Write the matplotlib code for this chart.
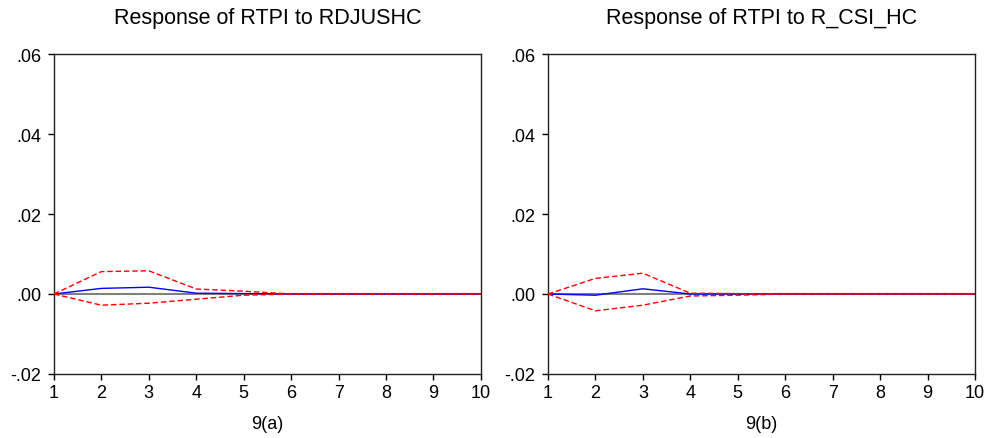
import matplotlib

matplotlib.use("Agg")
import matplotlib.pyplot as plt  # noqa: E402
from matplotlib.ticker import FuncFormatter  # noqa: E402

plt.rcParams["font.family"] = ["Liberation Sans", "DejaVu Sans"]

periods = list(range(1, 11))

# panel (a): response of RTPI to RDJUSHC
resp_a = [0.0, 0.0014, 0.0017, 0.0002, 0.0001, 0.0, 0.0, 0.0, 0.0, 0.0]
upper_a = [0.0, 0.0056, 0.0058, 0.00125, 0.0007, 0.0, 0.0, 0.0, 0.0, 0.0]
lower_a = [0.0, -0.0028, -0.0023, -0.0013, -0.0003, 0.0, 0.0, 0.0, 0.0, 0.0]

# panel (b): response of RTPI to R_CSI_HC
resp_b = [0.0, -0.0003, 0.0013, 0.0, 0.0, 0.0, 0.0, 0.0, 0.0, 0.0]
upper_b = [0.0, 0.0039, 0.0052, 0.0002, 0.0001, 0.0, 0.0, 0.0, 0.0, 0.0]
lower_b = [0.0, -0.0042, -0.0028, -0.0005, -0.0003, 0.0, 0.0, 0.0, 0.0, 0.0]

y_ticks = [-0.02, 0.0, 0.02, 0.04, 0.06]

panels = [
    ("Response of RTPI to RDJUSHC", "9(a)", resp_a, upper_a, lower_a, 0.0545),
    ("Response of RTPI to R_CSI_HC", "9(b)", resp_b, upper_b, lower_b, 0.5535),
]


def _fmt(v, _pos):
    s = f"{v:.2f}"
    return s.replace("0.", ".", 1)


fig = plt.figure(figsize=(9.9, 4.39), dpi=100)
for title, label, resp, up, lo, left in panels:
    ax = fig.add_axes([left, 0.1458, 0.4313, 0.7289])
    ax.axhline(0, color="#808080", linewidth=1.5, zorder=1)
    ax.plot(periods, up, color="red", linestyle=(0, (4, 2)), linewidth=1.0, zorder=3)
    ax.plot(periods, lo, color="red", linestyle=(0, (4, 2)), linewidth=1.0, zorder=3)
    ax.plot(periods, resp, color="blue", linewidth=1.0, zorder=2)
    ax.set_xlim(1, 10)
    ax.set_ylim(-0.02, 0.06)
    ax.set_xticks(periods)
    ax.set_yticks(y_ticks)
    ax.yaxis.set_major_formatter(FuncFormatter(_fmt))
    ax.tick_params(direction="out", length=4, width=1, labelsize=13)
    ax.tick_params(axis="x", pad=3)
    ax.tick_params(axis="y", pad=5)
    for sp in ax.spines.values():
        sp.set_linewidth(1.0)
        sp.set_color("#222222")
    ax.set_title(title, fontsize=15.5, pad=22)
    ax.set_xlabel(label, fontsize=13, labelpad=10)

fig.savefig("out.png", dpi=100)
